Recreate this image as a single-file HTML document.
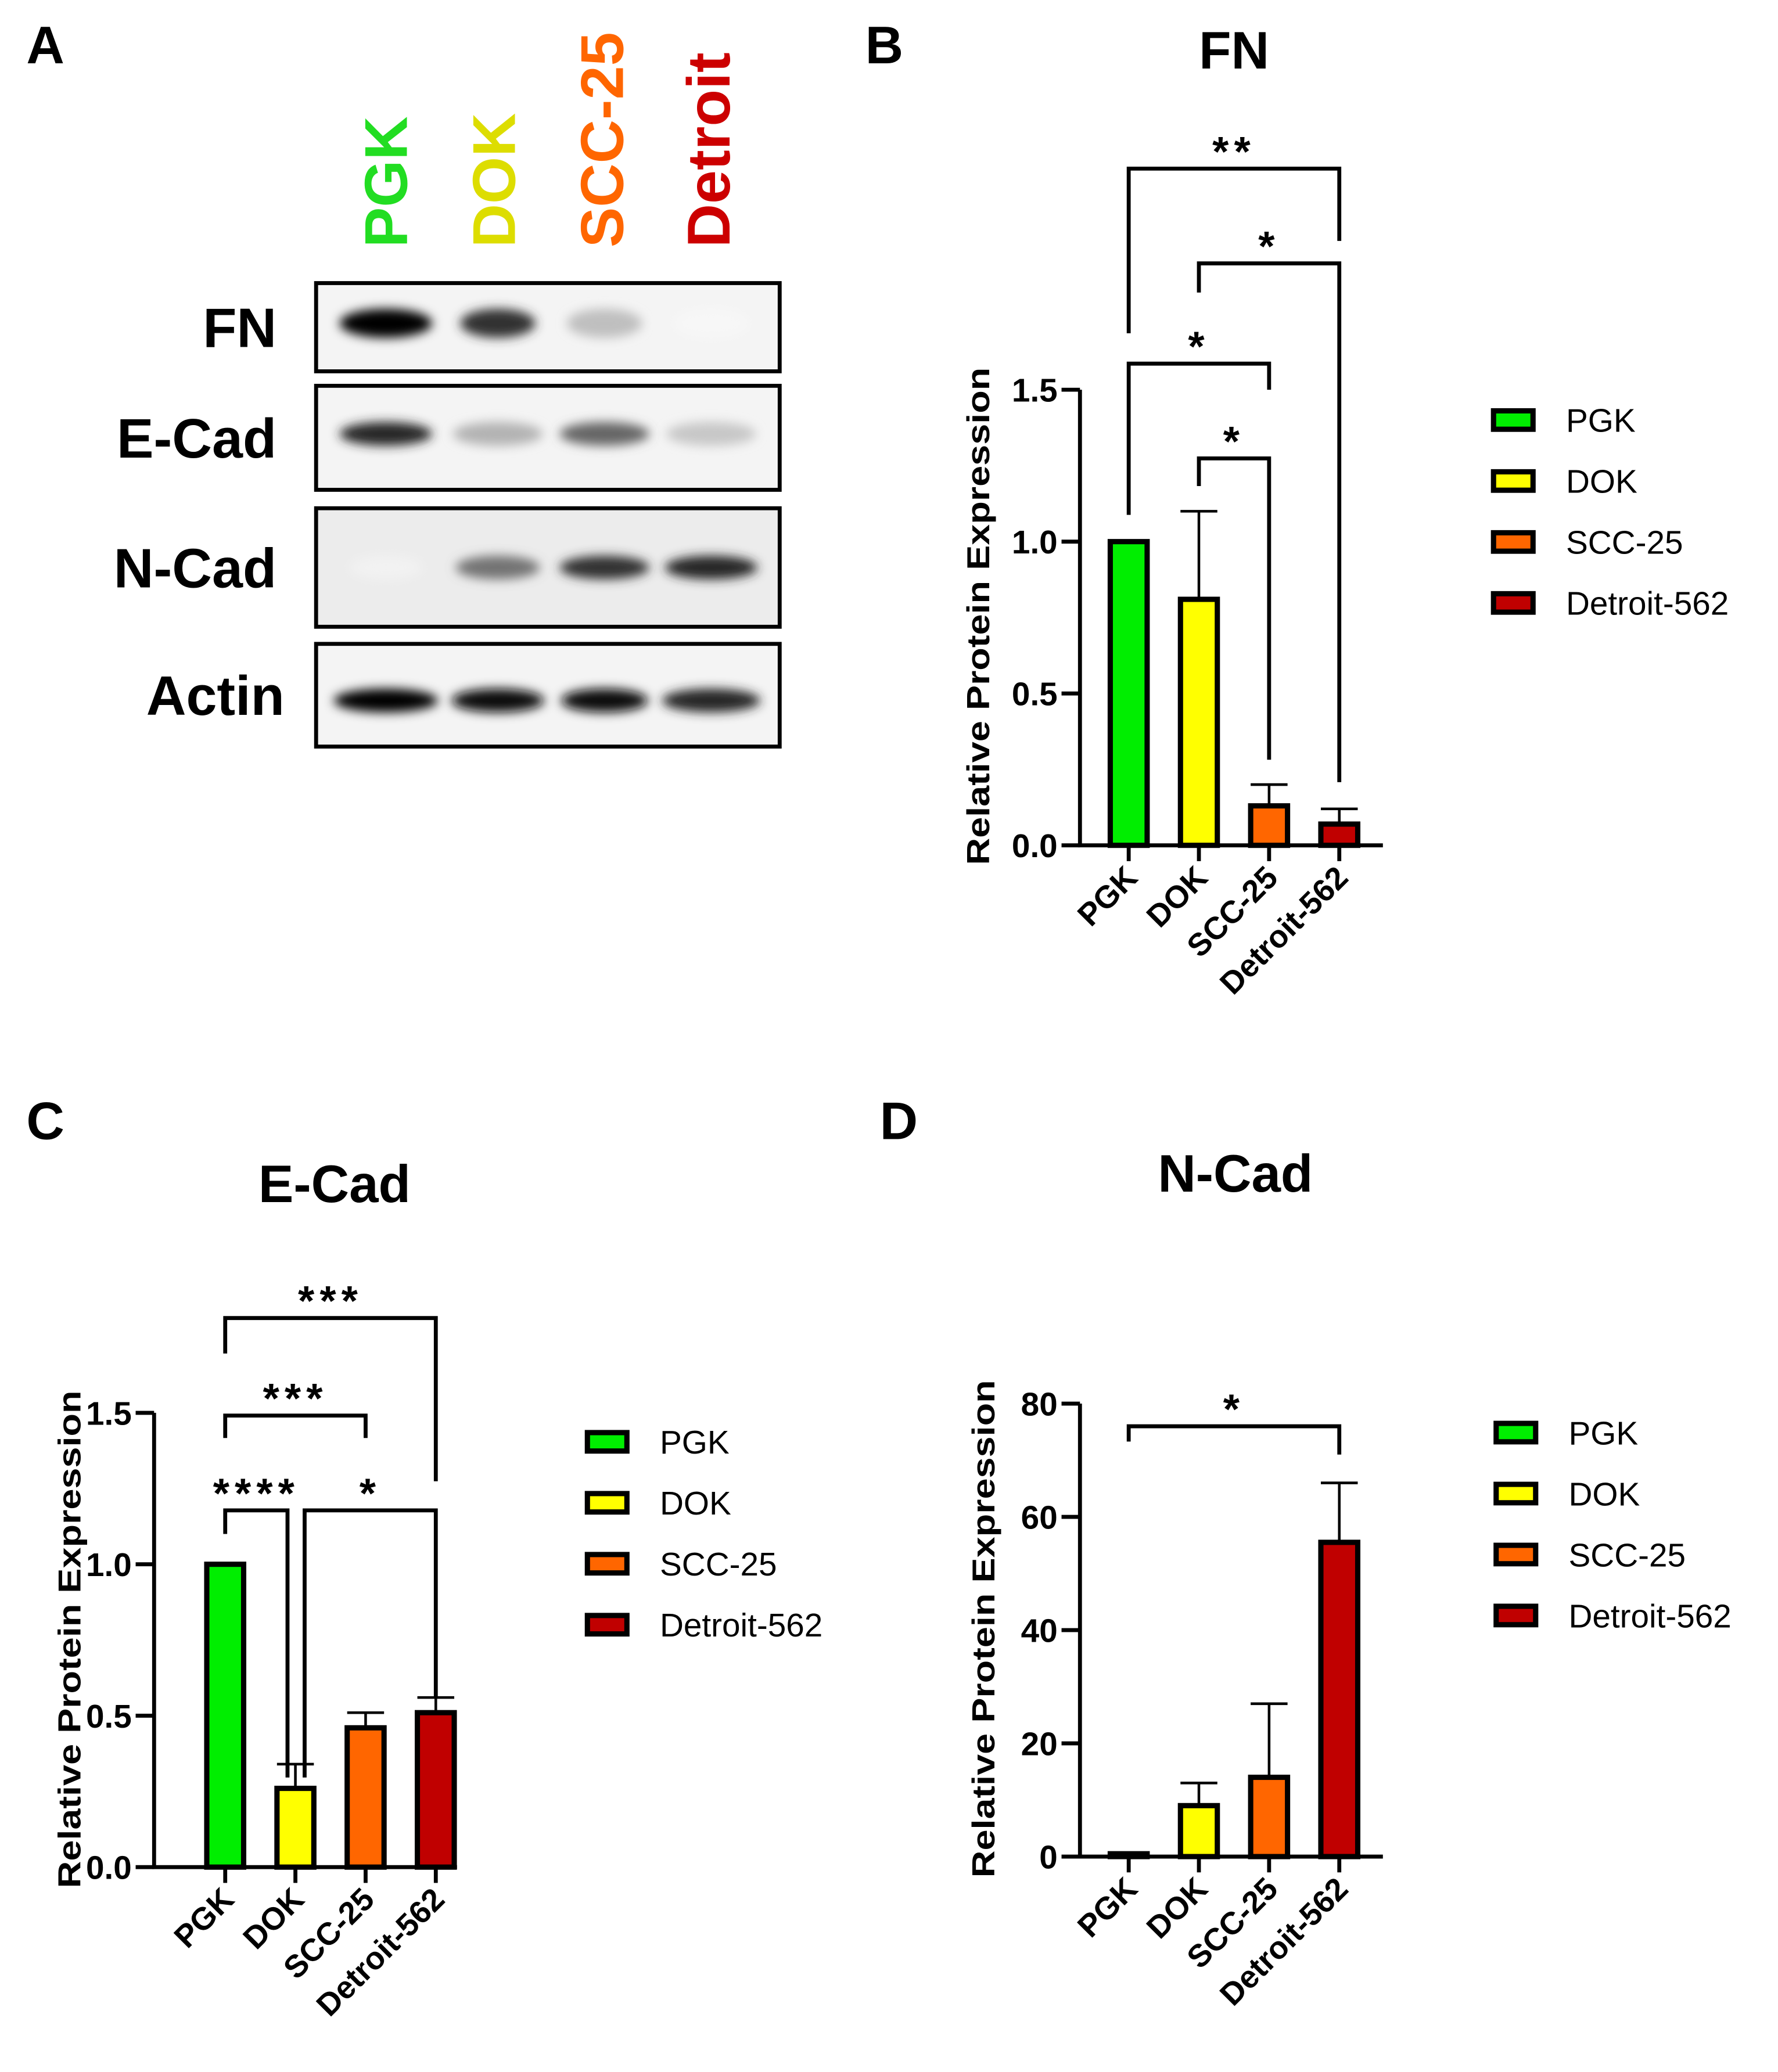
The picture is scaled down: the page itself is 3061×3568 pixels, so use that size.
<!DOCTYPE html>
<html><head><meta charset="utf-8"><style>
html,body{margin:0;padding:0;background:#fff}
svg{display:block}
text{font-family:"Liberation Sans",Arial,sans-serif}
</style></head><body>
<svg id="fig" xmlns="http://www.w3.org/2000/svg" width="3061" height="3568" viewBox="0 0 1350 1573.6">
<defs>
<filter id="blur" x="-50%" y="-100%" width="200%" height="300%"><feGaussianBlur stdDeviation="4"/></filter>
</defs>
<g font-weight="bold" font-size="40">
<text x="20" y="48">A</text>
<text x="657" y="48">B</text>
<text x="20" y="865">C</text>
<text x="668" y="865">D</text>
</g>
<g id="blot"></g>
<g id="chartB"></g>
<g id="chartC"></g>
<g id="chartD"></g>
</svg>
<script>
const categories = ["PGK","DOK","SCC-25","Detroit-562"];
const colors = ["#00ee00","#ffff00","#ff6600","#c00000"];
const fnValues = [1.0, 0.81, 0.13, 0.07];
const fnErrors = [0, 0.29, 0.07, 0.05];
const fnTicks = [0, 0.5, 1.0, 1.5];
const fnTickLabels = ["0.0","0.5","1.0","1.5"];
const ecadValues = [1.0, 0.26, 0.46, 0.51];
const ecadErrors = [0, 0.08, 0.05, 0.05];
const ecadTicks = [0, 0.5, 1.0, 1.5];
const ecadTickLabels = ["0.0","0.5","1.0","1.5"];
const ncadValues = [0.5, 9, 14, 55.5];
const ncadErrors = [0, 4, 13, 10.5];
const ncadTicks = [0, 20, 40, 60, 80];
const ncadTickLabels = ["0","20","40","60","80"];
// brackets: [from, to, top, legFrom, legTo, label, offsetFrom, offsetTo]
const fnBrackets = [[0,3,2.228,1.686,1.99,"**",0,0],[1,3,1.916,1.82,0.208,"*",0,0],[0,2,1.586,1.088,1.5,"*",0,0],[1,2,1.274,1.183,0.282,"*",0,0]];
const ecadBrackets = [[0,3,1.813,1.696,1.274,"***",0,0],[0,2,1.491,1.417,1.417,"***",0,0],[0,1,1.178,1.1,0.296,"****",0,-6],[1,3,1.178,0.296,0.557,"*",7,0]];
const ncadBrackets = [[0,3,76,73.3,71,"*",0,0]];

const NS="http://www.w3.org/2000/svg";
function mk(parent, tag, attrs, txt){
  const e=document.createElementNS(NS,tag);
  for(const k in attrs) e.setAttribute(k,attrs[k]);
  if(txt!==undefined) e.textContent=txt;
  parent.appendChild(e); return e;
}

function chart(g, cfg){
  const ymax=cfg.ticks[cfg.ticks.length-1];
  const yS=v=>cfg.y0-(v/ymax)*(cfg.y0-cfg.yTop);
  const xS=i=>cfg.x1+i*53.3;
  const t=mk(g,'text',{x:cfg.titleX,y:cfg.titleY,'text-anchor':'middle','font-size':40,'font-weight':'bold'},cfg.title);
  
  
  const yt=mk(g,'text',{x:0,y:0,'text-anchor':'middle','font-size':24,'font-weight':'bold',textLength:378,lengthAdjust:'spacingAndGlyphs',transform:`translate(${cfg.yTitleX},${cfg.yTitleY}) rotate(-90)`},'Relative Protein Expression');
  
  
  cfg.values.forEach((v,i)=>{
    const cx=xS(i), top=yS(v);
    if(cfg.errors[i]>0){
      const et=yS(v+cfg.errors[i]);
      const el=mk(g,'path',{d:`M${cx},${top} V${et} M${cx-14},${et} H${cx+14}`,stroke:'#000','stroke-width':2,fill:'none'});
      
      
    }
    const b=mk(g,'rect',{x:cx-14,y:top,width:28,height:Math.max(cfg.y0-top,0.5),fill:colors[i],stroke:'#000','stroke-width':4});
    
    
  });
  const ax=mk(g,'path',{d:`M${cfg.ax},${cfg.yTop} V${cfg.y0} H${cfg.ax+230}`,stroke:'#000','stroke-width':3,fill:'none'});
  
  
  cfg.ticks.forEach((v,i)=>{
    const y=yS(v);
    const tk=mk(g,'line',{x1:cfg.ax-14,x2:cfg.ax,y1:y,y2:y,stroke:'#000','stroke-width':3});
    
    
    const tl=mk(g,'text',{x:cfg.ax-17,y:y+9,'text-anchor':'end','font-size':25,'font-weight':'bold'},cfg.tickLabels[i]);
    
    
  });
  categories.forEach((c,i)=>{
    const cx=xS(i);
    const tk=mk(g,'line',{x1:cx,x2:cx,y1:cfg.y0,y2:cfg.y0+12,stroke:'#000','stroke-width':3});
    
    
    const tl=mk(g,'text',{x:0,y:0,'text-anchor':'end','font-size':24,'font-weight':'bold',transform:`translate(${cx+8},${cfg.y0+26}) rotate(-45)`},c);
    
    
  });
  cfg.brackets.forEach(br=>{
    const xa=xS(br[0])+br[6], xb=xS(br[1])+br[7], yt=yS(br[2]);
    const p=mk(g,'path',{d:`M${xa},${yS(br[3])} V${yt} H${xb} V${yS(br[4])}`,stroke:'#000','stroke-width':3,fill:'none'});
    
    
    const s=mk(g,'text',{x:(xa+xb)/2,y:yt-2,'text-anchor':'middle','font-size':32,'font-weight':'bold','letter-spacing':4},br[5]);
    
    
  });
  categories.forEach((c,i)=>{
    const y=cfg.legY+i*46.3;
    const r=mk(g,'rect',{x:cfg.legX,y:y-7,width:30,height:14,fill:colors[i],stroke:'#000','stroke-width':4});
    
    
    const t2=mk(g,'text',{x:cfg.legX+55,y:y+9,'font-size':25},c);
    
    
  });
}

chart(document.getElementById('chartB'),{title:'FN',titleX:937,titleY:52,ax:820,x1:857,y0:642,yTop:296,yTitleX:751,yTitleY:468,values:fnValues,errors:fnErrors,ticks:fnTicks,tickLabels:fnTickLabels,brackets:fnBrackets,legX:1134,legY:319});
chart(document.getElementById('chartC'),{title:'E-Cad',titleX:254,titleY:913,ax:117,x1:171,y0:1418,yTop:1073,yTitleX:61,yTitleY:1245,values:ecadValues,errors:ecadErrors,ticks:ecadTicks,tickLabels:ecadTickLabels,brackets:ecadBrackets,legX:446,legY:1095});
chart(document.getElementById('chartD'),{title:'N-Cad',titleX:938,titleY:905,ax:820,x1:857,y0:1410,yTop:1066,yTitleX:755,yTitleY:1237,values:ncadValues,errors:ncadErrors,ticks:ncadTicks,tickLabels:ncadTickLabels,brackets:ncadBrackets,legX:1136,legY:1088});

const blot=document.getElementById('blot');
const lanes=["PGK","DOK","SCC-25","Detroit"];
const laneColors=["#22dd22","#dddd00","#ff6600","#cc0000"];
const laneX=[293,375,457,538];
const rowNames=["FN","E-Cad","N-Cad","Actin"];
const rowBoxes=[[215,282],[293,372],[386,476],[489,567]];
const rowLabelX=[210,210,210,216];
const bandCx=[293,378,459,540];
const bandDark=[[1,0.8,0.25,0.03],[0.85,0.3,0.6,0.22],[0.05,0.55,0.8,0.85],[1,0.95,0.95,0.85]];
const bandW=[[64,52,52,52],[64,62,62,62],[50,58,62,64],[72,64,60,68]];
lanes.forEach((l,i)=>{
  const t=mk(blot,'text',{x:0,y:0,'font-size':46,'font-weight':'bold',fill:laneColors[i],transform:`translate(${laneX[i]+16},188) rotate(-90)`},l);
  
  
});
rowNames.forEach((r,j)=>{
  const [y1,y2]=rowBoxes[j];
  const bg=mk(blot,'rect',{x:240,y:y1,width:352,height:y2-y1,fill:j==2?'#ececec':'#f4f4f4',stroke:'none'});
  
  
  const cy=(y1+y2)/2+ (j==3?4:(j==2?0:-3));
  bandDark[j].forEach((d,i)=>{
    const c=Math.round(255*(1-d));
    const e=mk(blot,'ellipse',{cx:bandCx[i],cy:cy,rx:bandW[j][i]/2*1.1,ry:j==0?11:9,fill:`rgb(${c},${c},${c})`,filter:'url(#blur)'});
    
    
  });
  const box=mk(blot,'rect',{x:240,y:y1,width:352,height:y2-y1,fill:'none',stroke:'#000','stroke-width':3});
  
  
  const lb=mk(blot,'text',{x:rowLabelX[j],y:(y1+y2)/2+15,'text-anchor':'end','font-size':42,'font-weight':'bold'},r);
  
  
});
</script>
</body></html>
